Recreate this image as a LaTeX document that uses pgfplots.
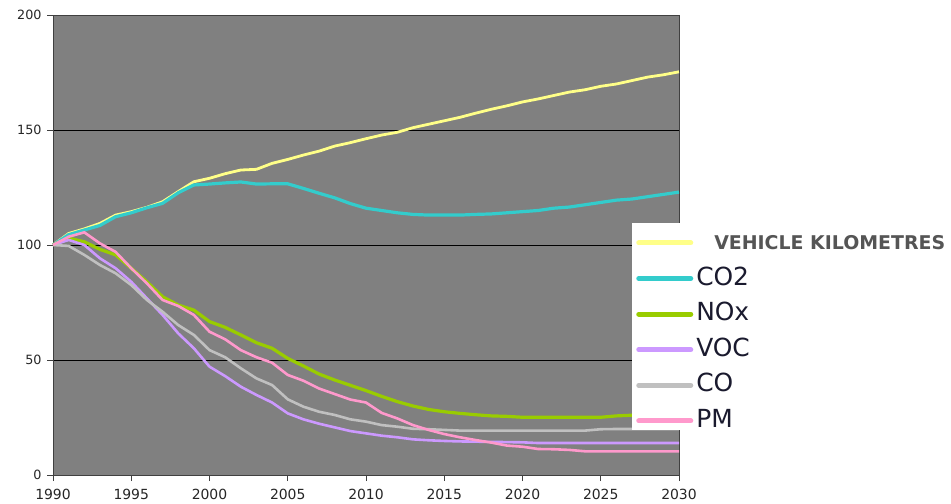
\documentclass[border=0pt]{standalone}
\usepackage{pgfplots}
\usepackage{pgfplotstable}
\pgfplotsset{compat=1.18}
\usepackage{fontspec}
\setmainfont{DejaVu Sans}
\definecolor{plotgray}{HTML}{808080}
\definecolor{axgray}{HTML}{404040}
\definecolor{cYel}{HTML}{FFFF88}
\definecolor{cCyan}{HTML}{33CCCC}
\definecolor{cGreen}{HTML}{99CC00}
\definecolor{cPurple}{HTML}{CC99FF}
\definecolor{cGray}{HTML}{C0C0C0}
\definecolor{cPink}{HTML}{FF99CC}
\definecolor{legtext}{HTML}{1A1A2E}
\definecolor{vkmtext}{HTML}{555555}
\pgfplotstableread{
year vkm co2 nox voc co pm
1990 100 100 100 100 100 100
1991 105 104.5 103 102.2 99.6 103.6
1992 107 106.5 101.4 100 95.7 105.5
1993 109.4 108.5 98.1 94.2 91.3 100.7
1994 113 112.3 95.7 89.9 87.7 97
1995 114.5 114 89.9 84 82.6 89.9
1996 116.4 116.2 84 76.8 76.1 83.3
1997 118.8 118.1 77.5 69.6 71 76.1
1998 123.2 122.7 73.9 61.6 65.2 73.5
1999 127.5 126.1 71.7 55.1 60.9 69.6
2000 129 126.5 66.7 47.1 54.3 62.3
2001 131 127 64.2 43 51.2 59
2002 132.6 127.4 60.9 38.4 46.4 54.3
2003 132.9 126.5 57.5 34.8 42 51.2
2004 135.5 126.6 55.1 31.5 39.1 48.8
2005 137.2 126.6 50.7 26.8 32.9 43.5
2006 139.1 124.6 47.4 24.2 29.7 41
2007 140.8 122.5 43.9 22.3 27.5 37.6
2008 143 120.5 41.3 20.7 26.1 35.2
2009 144.5 118 39 19.1 24.2 32.8
2010 146.2 116 36.7 18.1 23.2 31.5
2011 147.8 115 34.2 17.1 21.7 27
2012 149 114 31.9 16.4 21 24.6
2013 151 113.3 30 15.5 20.1 21.7
2014 152.5 113 28.5 15.1 19.9 19.6
2015 154 113 27.5 14.8 19.6 17.8
2016 155.5 113 26.8 14.6 19.3 16.4
2017 157.3 113.3 26.2 14.5 19.3 15.2
2018 159 113.5 25.7 14.4 19.3 14.1
2019 160.5 114 25.5 14.3 19.3 12.8
2020 162.2 114.5 25.1 14.2 19.3 12.3
2021 163.5 115 25.1 13.9 19.3 11.3
2022 165 116 25.1 13.9 19.3 11.2
2023 166.5 116.5 25.1 13.9 19.3 10.9
2024 167.5 117.5 25.1 13.9 19.3 10.3
2025 169 118.5 25.1 13.9 19.9 10.3
2026 170 119.5 25.7 13.9 20 10.3
2027 171.5 120 26 13.9 20 10.3
2028 173 121 26 13.9 20 10.3
2029 174 122 26 13.9 20 10.3
2030 175.3 123 26 13.9 20 10.3
}\datatable
\begin{document}
\begin{tikzpicture}
\useasboundingbox (0,0) rectangle (951bp,504bp);
\begin{axis}[
  at={(53bp,29bp)}, anchor=south west,
  scale only axis, width=626bp, height=460bp,
  xmin=1990, xmax=2030, ymin=0, ymax=200,
  clip=false,
  xtick={1990,1995,...,2030}, ytick={0,50,...,200},
  ymajorgrids, grid style={black, line width=0.8pt},
  axis background/.style={fill=plotgray},
  axis line style={axgray, line width=0.8pt},
  tick style={axgray, line width=0.8pt},
  major tick length=6bp, tick align=outside, tick pos=left,
  /pgf/number format/1000 sep={},
  /pgf/number format/assume math mode=true,
  x tick label style={font=\fontsize{14}{15}\selectfont, text=black!85, yshift=-5bp},
  y tick label style={font=\fontsize{12.8}{14}\selectfont, text=black!85, xshift=-2bp},
  legend cell align=left,
  legend style={at={(axis description cs:0.925,0.548)}, anchor=north west,
    draw=none, fill=none, inner xsep=4bp, inner ysep=2bp,
    font=\fontsize{25}{27}\selectfont, text=legtext,
    row sep=0bp, column sep=0bp,
    nodes={text height=17bp, text depth=4bp, inner ysep=7.3bp, inner xsep=3bp}},
  legend image code/.code={\draw[#1, line width=5bp, line cap=round] (0bp,0bp) -- (52bp,0bp);},
]
\addplot[cYel, line width=2.8bp] table[x=year, y=vkm] {\datatable};
\addlegendentry{\hspace{18bp}\textbf{\textcolor{vkmtext}{\fontsize{19}{20}\selectfont VEHICLE KILOMETRES}}}
\addplot[cCyan, line width=3.2bp] table[x=year, y=co2] {\datatable};
\addlegendentry{CO2}
\addplot[cGreen, line width=3.2bp] table[x=year, y=nox] {\datatable};
\addlegendentry{NOx}
\addplot[cPurple, line width=2.6bp] table[x=year, y=voc] {\datatable};
\addlegendentry{VOC}
\addplot[cGray, line width=2.6bp] table[x=year, y=co] {\datatable};
\addlegendentry{CO}
\addplot[cPink, line width=2.6bp] table[x=year, y=pm] {\datatable};
\addlegendentry{PM}
\fill[white] (axis description cs:0.925,0.548) rectangle (axis description cs:1.46,0.0978);
\end{axis}
\end{tikzpicture}
\end{document}
